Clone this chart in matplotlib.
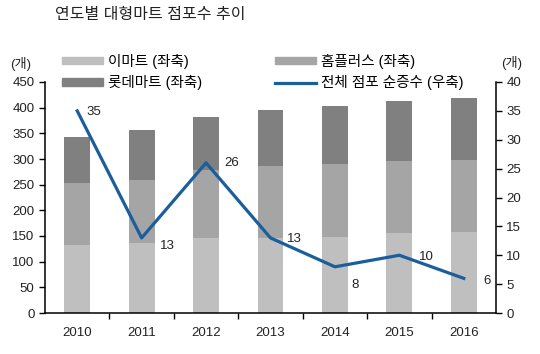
import matplotlib.pyplot as plt
import numpy as np
from matplotlib.patches import Patch
from matplotlib.lines import Line2D

plt.rcParams['font.family'] = ['Liberation Sans', 'Noto Sans CJK KR']

years = ['2010', '2011', '2012', '2013', '2014', '2015', '2016']
emart = [133, 137, 146, 147, 149, 155, 157]
homeplus = [121, 123, 133, 139, 141, 141, 142]
lotte = [89, 96, 103, 109, 113, 117, 120]
net_increase = [35, 13, 26, 13, 8, 10, 6]

# label offsets in points (left edge, center), tuned to the reference
label_offsets = [(7, -1), (13, -6), (13, 0), (12, -1), (12, -13), (14, -1), (14, -2)]

c_emart = '#bfbfbf'
c_home = '#a5a5a5'
c_lotte = '#808080'
c_line = '#1b5e9c'

fig = plt.figure(figsize=(5.4, 3.54), dpi=100)
ax = fig.add_axes([45 / 540, 1 - 313 / 354, 451 / 540, 231 / 354])
ax2 = ax.twinx()

x = np.arange(len(years))
w = 0.4
ax.bar(x, emart, w, color=c_emart, zorder=2)
ax.bar(x, homeplus, w, bottom=emart, color=c_home, zorder=2)
bottom2 = np.array(emart) + np.array(homeplus)
ax.bar(x, lotte, w, bottom=bottom2, color=c_lotte, zorder=2)

ax2.plot(x, net_increase, color=c_line, lw=2.3, zorder=3)
for xi, v, (dx, dy) in zip(x, net_increase, label_offsets):
    ax2.annotate(str(v), (xi, v), xytext=(dx, dy), textcoords='offset points',
                 ha='left', va='center', fontsize=9.5, color='#222222')

ax.set_xlim(-0.5, len(years) - 0.5)
ax.set_ylim(0, 450)
ax.set_yticks(np.arange(0, 451, 50))
ax2.set_ylim(0, 40)
ax2.set_yticks(np.arange(0, 41, 5))

ax.set_xticks(x)
ax.set_xticklabels(years)
ax.set_xticks(np.arange(0.5, len(years) - 1, 1), minor=True)
ax.tick_params(axis='x', which='major', length=0, pad=10, labelsize=9.5, labelcolor='#222222')
ax.tick_params(axis='x', which='minor', length=4, width=1, direction='out')
ax.tick_params(axis='y', length=4, width=1, direction='out', labelsize=9.5, labelcolor='#222222')
ax2.tick_params(axis='y', length=4, width=1, direction='out', labelsize=9.5, labelcolor='#222222')

for a in (ax, ax2):
    a.spines['top'].set_visible(False)
    for s in ('left', 'right', 'bottom'):
        a.spines[s].set_linewidth(1.1)
ax.spines['right'].set_visible(False)
ax2.spines['left'].set_visible(False)
ax2.spines['bottom'].set_visible(False)

fig.text(55 / 540, 1 - 15 / 354, '연도별 대형마트 점포수 추이', fontsize=11.5,
         ha='left', va='center', color='#222222')
fig.text(21 / 540, 1 - 64 / 354, '(개)', fontsize=9.5, ha='center', va='center', color='#222222')
fig.text(512 / 540, 1 - 63 / 354, '(개)', fontsize=9.5, ha='center', va='center', color='#222222')

handles = [Patch(color=c_emart), Patch(color=c_lotte), Patch(color=c_home),
           Line2D([], [], color=c_line, lw=2.3)]
labels = ['이마트 (좌축)', '롯데마트 (좌축)', '홈플러스 (좌축)', '전체 점포 순증수 (우축)']
fig.legend(handles, labels, ncol=2, frameon=False, fontsize=10.5,
           loc='upper left', bbox_to_anchor=(62 / 540, 1 - 54 / 354),
           handlelength=2.8, handleheight=0.4, handletextpad=0.35,
           columnspacing=5.0, labelspacing=0.42, borderaxespad=0, borderpad=0)

fig.savefig('out.png', dpi=100)
